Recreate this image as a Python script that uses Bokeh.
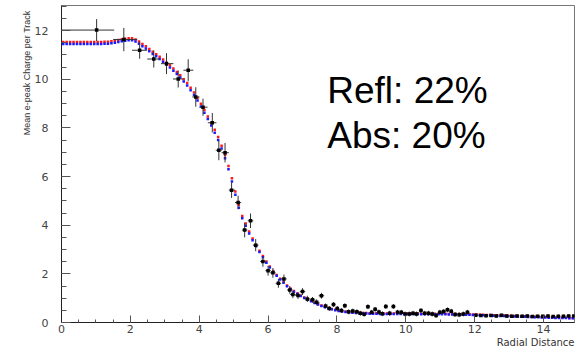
from bokeh.plotting import figure
from bokeh.models import Label, SingleIntervalTicker, Title
from bokeh.embed import file_html
from bokeh.resources import INLINE

# ---------------- data ----------------
data_x = [1.02, 1.81, 2.27, 2.68, 3.05, 3.39, 3.68, 3.90, 4.11, 4.38,
          4.57, 4.75, 4.94, 5.13, 5.32, 5.49, 5.64, 5.85, 6.00, 6.14,
          6.30, 6.46, 6.63, 6.72, 6.87, 7.00, 7.14, 7.29, 7.41, 7.55,
          7.67, 7.78, 7.90, 8.01, 8.13, 8.23, 8.34, 8.46, 8.58, 8.68,
          8.79, 8.90, 9.01, 9.11, 9.22, 9.32, 9.42, 9.53, 9.64, 9.76,
          9.87, 9.98, 10.10, 10.21, 10.31, 10.44, 10.55, 10.66, 10.77, 10.88,
          10.99, 11.10, 11.21, 11.32, 11.43, 11.55, 11.67, 11.79, 12.03, 12.18,
          12.33, 12.48, 12.63, 12.78, 12.93, 13.08, 13.23, 13.38, 13.53, 13.68,
          13.83, 13.98, 14.13, 14.28, 14.43, 14.58, 14.73, 14.88]
data_y = [12.02, 11.63, 11.19, 10.83, 10.64, 10.01, 10.37, 9.27, 8.85, 8.21,
          7.08, 6.98, 5.44, 4.93, 3.80, 4.18, 3.18, 2.51, 2.13, 2.04,
          1.61, 1.79, 1.34, 1.15, 1.11, 1.27, 0.97, 0.93, 0.83, 1.10,
          0.68, 0.58, 0.74, 0.58, 0.49, 0.69, 0.44, 0.47, 0.44, 0.38,
          0.34, 0.65, 0.42, 0.54, 0.43, 0.36, 0.66, 0.38, 0.66, 0.42,
          0.42, 0.35, 0.35, 0.38, 0.35, 0.49, 0.38, 0.38, 0.35, 0.29,
          0.42, 0.45, 0.52, 0.46, 0.33, 0.32, 0.35, 0.42, 0.30, 0.29,
          0.28, 0.29, 0.27, 0.30, 0.27, 0.26, 0.27, 0.26, 0.27, 0.25,
          0.26, 0.26, 0.27, 0.25, 0.26, 0.26, 0.27, 0.27]
data_yerr = [0.45, 0.48, 0.35, 0.35, 0.43, 0.35, 0.45, 0.40, 0.35, 0.40,
             0.41, 0.40, 0.32, 0.28, 0.30, 0.30, 0.25, 0.22, 0.20, 0.20,
             0.18, 0.18, 0.16, 0.15, 0.14, 0.14, 0.13, 0.12, 0.12, 0.12,
             0.10, 0.10, 0.10, 0.10, 0.10, 0.10, 0.10, 0.10, 0.10, 0.10,
             0.10, 0.10, 0.10, 0.10, 0.10, 0.10, 0.10, 0.10, 0.10, 0.10,
             0.10, 0.10, 0.10, 0.10, 0.10, 0.10, 0.10, 0.10, 0.10, 0.10,
             0.10, 0.10, 0.10, 0.10, 0.10, 0.10, 0.10, 0.10, 0.06, 0.06,
             0.06, 0.06, 0.06, 0.06, 0.06, 0.06, 0.06, 0.06, 0.06, 0.06,
             0.06, 0.06, 0.06, 0.06, 0.06, 0.06, 0.06, 0.06]
data_xerr_lo = [1.02, 0.31, 0.22, 0.19, 0.16, 0.15, 0.14, 0.10, 0.10, 0.13,
                0.09, 0.10, 0.08, 0.09, 0.08, 0.08, 0.08, 0.08, 0.08, 0.08,
                0.08, 0.08, 0.08, 0.08, 0.08, 0.08, 0.08, 0.08, 0.08, 0.08] + [0.06] * 58
data_xerr_hi = [0.51, 0.39, 0.22, 0.18, 0.20, 0.15, 0.15, 0.11, 0.13, 0.12,
                0.08, 0.11, 0.10, 0.09, 0.08, 0.08, 0.08, 0.08, 0.08, 0.08,
                0.08, 0.08, 0.08, 0.08, 0.08, 0.08, 0.08, 0.08, 0.08, 0.08] + [0.06] * 58

model_x = [0.05, 0.15, 0.25, 0.35, 0.45, 0.55, 0.65, 0.75, 0.85, 0.95,
           1.05, 1.15, 1.25, 1.35, 1.45, 1.55, 1.65, 1.75, 1.85, 1.95,
           2.05, 2.15, 2.25, 2.35, 2.45, 2.55, 2.65, 2.75, 2.85, 2.95,
           3.05, 3.15, 3.25, 3.35, 3.45, 3.55, 3.65, 3.75, 3.85, 3.95,
           4.05, 4.15, 4.25, 4.35, 4.45, 4.55, 4.65, 4.75, 4.85, 4.95,
           5.05, 5.15, 5.25, 5.35, 5.45, 5.55, 5.65, 5.75, 5.85, 5.95,
           6.05, 6.15, 6.25, 6.35, 6.45, 6.55, 6.65, 6.75, 6.85, 6.95,
           7.05, 7.15, 7.25, 7.35, 7.45, 7.55, 7.65, 7.75, 7.85, 7.95,
           8.05, 8.15, 8.25, 8.35, 8.45, 8.55, 8.65, 8.75, 8.85, 8.95,
           9.05, 9.15, 9.25, 9.35, 9.45, 9.55, 9.65, 9.75, 9.85, 9.95,
           10.05, 10.15, 10.25, 10.35, 10.45, 10.55, 10.65, 10.75, 10.85, 10.95,
           11.05, 11.15, 11.25, 11.35, 11.45, 11.55, 11.65, 11.75, 11.85, 11.95,
           12.05, 12.15, 12.25, 12.35, 12.45, 12.55, 12.65, 12.75, 12.85, 12.95,
           13.05, 13.15, 13.25, 13.35, 13.45, 13.55, 13.65, 13.75, 13.85, 13.95,
           14.05, 14.15, 14.25, 14.35, 14.45, 14.55, 14.65, 14.75, 14.85, 14.95]
model_blue = [11.45, 11.45, 11.45, 11.45, 11.45, 11.45, 11.45, 11.45, 11.45, 11.45,
              11.45, 11.45, 11.46, 11.46, 11.48, 11.50, 11.53, 11.56, 11.58, 11.60,
              11.60, 11.55, 11.46, 11.36, 11.26, 11.15, 11.04, 10.94, 10.83, 10.72,
              10.60, 10.48, 10.35, 10.21, 10.07, 9.91, 9.74, 9.55, 9.35, 9.12,
              8.88, 8.62, 8.36, 8.10, 7.80, 7.50, 7.15, 6.75, 6.30, 5.80,
              5.25, 4.72, 4.28, 3.98, 3.66, 3.38, 3.13, 2.90, 2.68, 2.46,
              2.26, 2.08, 1.92, 1.77, 1.63, 1.49, 1.37, 1.26, 1.17, 1.09,
              1.01, 0.94, 0.87, 0.80, 0.74, 0.68, 0.63, 0.58, 0.54, 0.50,
              0.47, 0.45, 0.43, 0.41, 0.40, 0.39, 0.38, 0.37, 0.37, 0.36,
              0.36, 0.36, 0.35, 0.35, 0.35, 0.35, 0.35, 0.35, 0.35, 0.35,
              0.35, 0.35, 0.35, 0.35, 0.34, 0.34, 0.34, 0.34, 0.34, 0.34,
              0.34, 0.34, 0.33, 0.33, 0.33, 0.33, 0.32, 0.32, 0.32, 0.31,
              0.31, 0.30, 0.30, 0.29, 0.29, 0.28, 0.28, 0.27, 0.27, 0.26,
              0.26, 0.25, 0.25, 0.24, 0.24, 0.23, 0.23, 0.22, 0.22, 0.21,
              0.21, 0.20, 0.20, 0.19, 0.19, 0.18, 0.18, 0.17, 0.17, 0.16]
model_red = [11.53, 11.53, 11.53, 11.53, 11.53, 11.53, 11.53, 11.53, 11.53, 11.53,
             11.53, 11.53, 11.54, 11.54, 11.56, 11.58, 11.61, 11.64, 11.66, 11.68,
             11.68, 11.63, 11.55, 11.45, 11.35, 11.24, 11.13, 11.03, 10.92, 10.81,
             10.69, 10.57, 10.44, 10.30, 10.16, 10.00, 9.84, 9.65, 9.45, 9.23,
             8.99, 8.73, 8.47, 8.21, 7.92, 7.62, 7.27, 6.88, 6.43, 5.93,
             5.38, 4.84, 4.38, 4.07, 3.74, 3.45, 3.19, 2.95, 2.73, 2.51,
             2.30, 2.12, 1.95, 1.80, 1.66, 1.52, 1.40, 1.29, 1.19, 1.11,
             1.03, 0.96, 0.89, 0.82, 0.76, 0.70, 0.65, 0.60, 0.56, 0.52,
             0.49, 0.47, 0.45, 0.43, 0.42, 0.41, 0.40, 0.39, 0.39, 0.38,
             0.38, 0.38, 0.37, 0.37, 0.37, 0.37, 0.37, 0.37, 0.37, 0.37,
             0.37, 0.37, 0.37, 0.37, 0.36, 0.36, 0.36, 0.36, 0.36, 0.36,
             0.36, 0.36, 0.35, 0.35, 0.35, 0.35, 0.34, 0.34, 0.34, 0.33,
             0.33, 0.32, 0.32, 0.31, 0.31, 0.30, 0.30, 0.29, 0.29, 0.28,
             0.28, 0.27, 0.27, 0.26, 0.26, 0.25, 0.25, 0.24, 0.24, 0.23,
             0.23, 0.22, 0.22, 0.21, 0.21, 0.20, 0.20, 0.19, 0.19, 0.18]

x_title = "Radial Distance"
y_title = "Mean e-peak Charge per Track"
note_lines = ["Refl: 22%", "Abs: 20%"]

# ---------------- figure ----------------
p = figure(width=577, height=346, x_range=(0, 14.9), y_range=(0, 13.03),
           output_backend="svg", toolbar_location=None,
           min_border_left=61, min_border_right=3, min_border_top=5, min_border_bottom=24)
p.background_fill_color = "white"
p.border_fill_color = "white"
p.outline_line_color = "#777777"
p.outline_line_width = 1
p.xgrid.visible = False
p.ygrid.visible = False

p.xaxis.ticker = SingleIntervalTicker(interval=2, num_minor_ticks=4)
p.yaxis.ticker = SingleIntervalTicker(interval=2, num_minor_ticks=4)
for ax in (p.xaxis, p.yaxis):
    ax.axis_line_color = "#222222"
    ax.axis_line_width = 1
    ax.major_tick_out = 0
    ax.minor_tick_out = 0
    ax.major_tick_line_color = "#555555"
    ax.minor_tick_line_color = "#555555"
    ax.major_label_text_font = "DejaVu Sans"
    ax.major_label_text_font_size = "11px"
    ax.major_label_text_color = "#444444"
p.xaxis.major_tick_in = 7
p.xaxis.minor_tick_in = 3
p.yaxis.major_tick_in = 9
p.yaxis.minor_tick_in = 5
p.xaxis.major_label_standoff = 2
p.yaxis.major_label_standoff = 13

# axis titles as side-panel titles
p.add_layout(Title(text=x_title, align="right", text_font="DejaVu Sans",
                   text_font_size="10px", text_font_style="normal",
                   text_color="#333333", standoff=-2), "below")
p.add_layout(Title(text=y_title, align="right", text_font="Liberation Sans",
                   text_font_size="9px", text_font_style="normal",
                   text_color="#333333", standoff=0, offset=5), "left")

# model curves
p.scatter(model_x, model_red, marker="square", size=2.5, fill_color="#ff1a1a", line_color=None)
p.scatter(model_x, model_blue, marker="square", size=2.5, fill_color="#1a1aff", line_color=None)

# data with error bars
x0 = [x - lo for x, lo in zip(data_x, data_xerr_lo)]
x1 = [x + hi for x, hi in zip(data_x, data_xerr_hi)]
y0 = [y - e for y, e in zip(data_y, data_yerr)]
y1 = [y + e for y, e in zip(data_y, data_yerr)]
p.segment(x0=x0, y0=data_y, x1=x1, y1=data_y, line_color="#333333", line_width=1)
p.segment(x0=data_x, y0=y0, x1=data_x, y1=y1, line_color="#333333", line_width=1)
p.scatter(data_x, data_y, marker="square", size=3.5, fill_color="black", line_color=None)

# annotation text
p.add_layout(Label(x=7.72, y=9.54, text=note_lines[0], text_font="Liberation Sans",
                   text_font_size="37px", text_color="black", text_baseline="alphabetic"))
p.add_layout(Label(x=7.72, y=7.69, text=note_lines[1], text_font="Liberation Sans",
                   text_font_size="37px", text_color="black", text_baseline="alphabetic"))

open("out.html", "w").write(file_html(p, INLINE))
